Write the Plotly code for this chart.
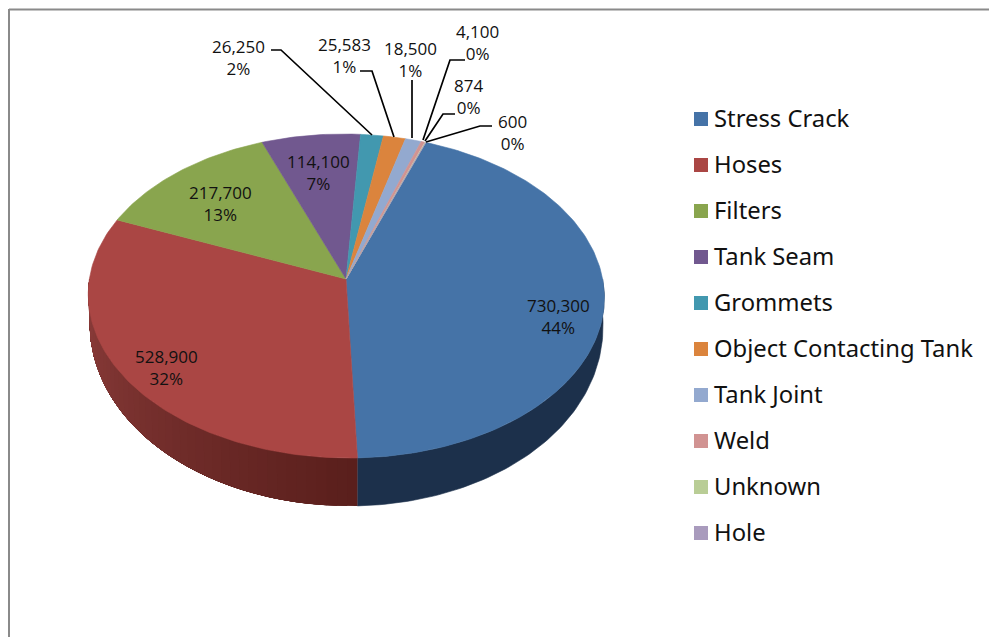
import numpy as np
import plotly.graph_objects as go

categories = ["Stress Crack", "Hoses", "Filters", "Tank Seam", "Grommets",
              "Object Contacting Tank", "Tank Joint", "Weld", "Unknown", "Hole"]
values = [730300, 528900, 217700, 114100, 26250, 25583, 18500, 4100, 874, 600]
percent_labels = ["44%", "32%", "13%", "7%", "2%", "1%", "1%", "0%", "0%", "0%"]
colors = ["#4573a7", "#aa4644", "#89a54e", "#71588f", "#4298af",
          "#db843d", "#93a9cf", "#d19392", "#b9cd96", "#a99bbd"]

# label centres (pixel frame of the page)
label_x = [558, 166, 220, 318, 238, 344, 410, 477, 468, 512]
label_y = [316, 367, 203, 172, 57, 55, 59, 42, 96, 132]

leaders = {
    4: ([271, 281, 372], [50, 50, 135]),
    5: ([360, 372, 394], [71, 71, 137]),
    6: ([412, 412], [80, 138]),
    7: ([465, 450, 423], [60, 60, 140]),
    8: ([455, 443, 425], [114, 114, 141]),
    9: ([492, 480, 426], [126, 126, 142]),
}

start_deg = 20.6
cx, cy = 346.0, 279.0
a, b, k = 256.6, 160.2, 0.105
shear = 0.017
wall_scale = 0.995


def project(theta_deg, wall=False):
    t = np.radians(theta_deg)
    u, v = np.sin(t), np.cos(t)
    w = 1 + k * v
    y = cy - b * v / w
    x = cx + a * u / w + shear * (y - cy)
    if wall:
        x = cx + (x - cx) * wall_scale
        y = y + 24 + 24 * np.clip(-v, 0, 1) ** 0.8
    return x, y


total = sum(values)
edges = start_deg + np.concatenate([[0], np.cumsum(values)]) / total * 360

fig = go.Figure()


def poly(xs, ys, color, lw=0.6):
    fig.add_trace(go.Scatter(x=xs, y=ys, mode="lines", fill="toself", fillcolor=color,
                             line=dict(color=color, width=lw), hoverinfo="skip",
                             showlegend=False))


def mix(c1, c2, f):
    return "rgb(%d,%d,%d)" % tuple(round(p + (q - p) * f) for p, q in zip(c1, c2))


# side wall: blue slice
th = np.linspace(90, edges[1], 80)
x1, y1 = project(th)
x2, y2 = project(th, True)
poly(np.r_[x1, x2[::-1]], np.r_[y1, y2[::-1]], "#1c304b")

# side wall: red slice, shaded in overlapping steps
steps = np.linspace(edges[1], 270, 46)
for i in range(len(steps) - 1):
    th = np.linspace(steps[i], 270, 60)
    x1, y1 = project(th)
    x2, y2 = project(th, True)
    f = i / (len(steps) - 2)
    poly(np.r_[x1, x2[::-1]], np.r_[y1, y2[::-1]], mix((90, 31, 28), (142, 62, 60), f), 0)

# top face
for i in range(len(values)):
    th = np.linspace(edges[i], edges[i + 1], max(3, int(values[i] / total * 360)))
    x, y = project(th)
    poly(np.r_[cx, x, cx], np.r_[cy, y, cy], colors[i])

# leader lines
for xs, ys in leaders.values():
    fig.add_trace(go.Scatter(x=xs, y=ys, mode="lines", line=dict(color="black", width=1.7),
                             hoverinfo="skip", showlegend=False))

# legend column
legend_x = 701
legend_y0 = 119
legend_step = 46
for i, name in enumerate(categories):
    yy = legend_y0 + i * legend_step
    fig.add_trace(go.Scatter(x=[legend_x], y=[yy], mode="markers",
                             marker=dict(symbol="square", size=14, color=colors[i]),
                             hoverinfo="skip", showlegend=False))
    fig.add_annotation(x=712, y=yy - 1, text=name, showarrow=False, xanchor="left", yanchor="middle",
                       font=dict(family="Noto Sans", size=23.8, color="#111111"))

# data labels
for i in range(len(values)):
    fig.add_annotation(x=label_x[i], y=label_y[i], text=f"{values[i]:,}<br>{percent_labels[i]}",
                       showarrow=False, xanchor="center", yanchor="middle",
                       font=dict(family="Open Sans", size=17, color="#111111"))

# frame (top and left edges only)
fig.add_shape(type="line", x0=9, x1=989, y0=9.5, y1=9.5, line=dict(color="#8a8a8a", width=2))
fig.add_shape(type="line", x0=9, x1=9, y0=9, y1=637, line=dict(color="#8a8a8a", width=2))

fig.update_layout(
    width=989, height=637, margin=dict(l=0, r=0, t=0, b=0),
    paper_bgcolor="white", plot_bgcolor="white", showlegend=False,
    xaxis=dict(range=[0, 989], visible=False, fixedrange=True),
    yaxis=dict(range=[637, 0], visible=False, fixedrange=True),
)
fig.write_html("out.html", config={"displayModeBar": False},
               post_script="document.body.style.margin='0';document.documentElement.style.overflow='hidden';")
